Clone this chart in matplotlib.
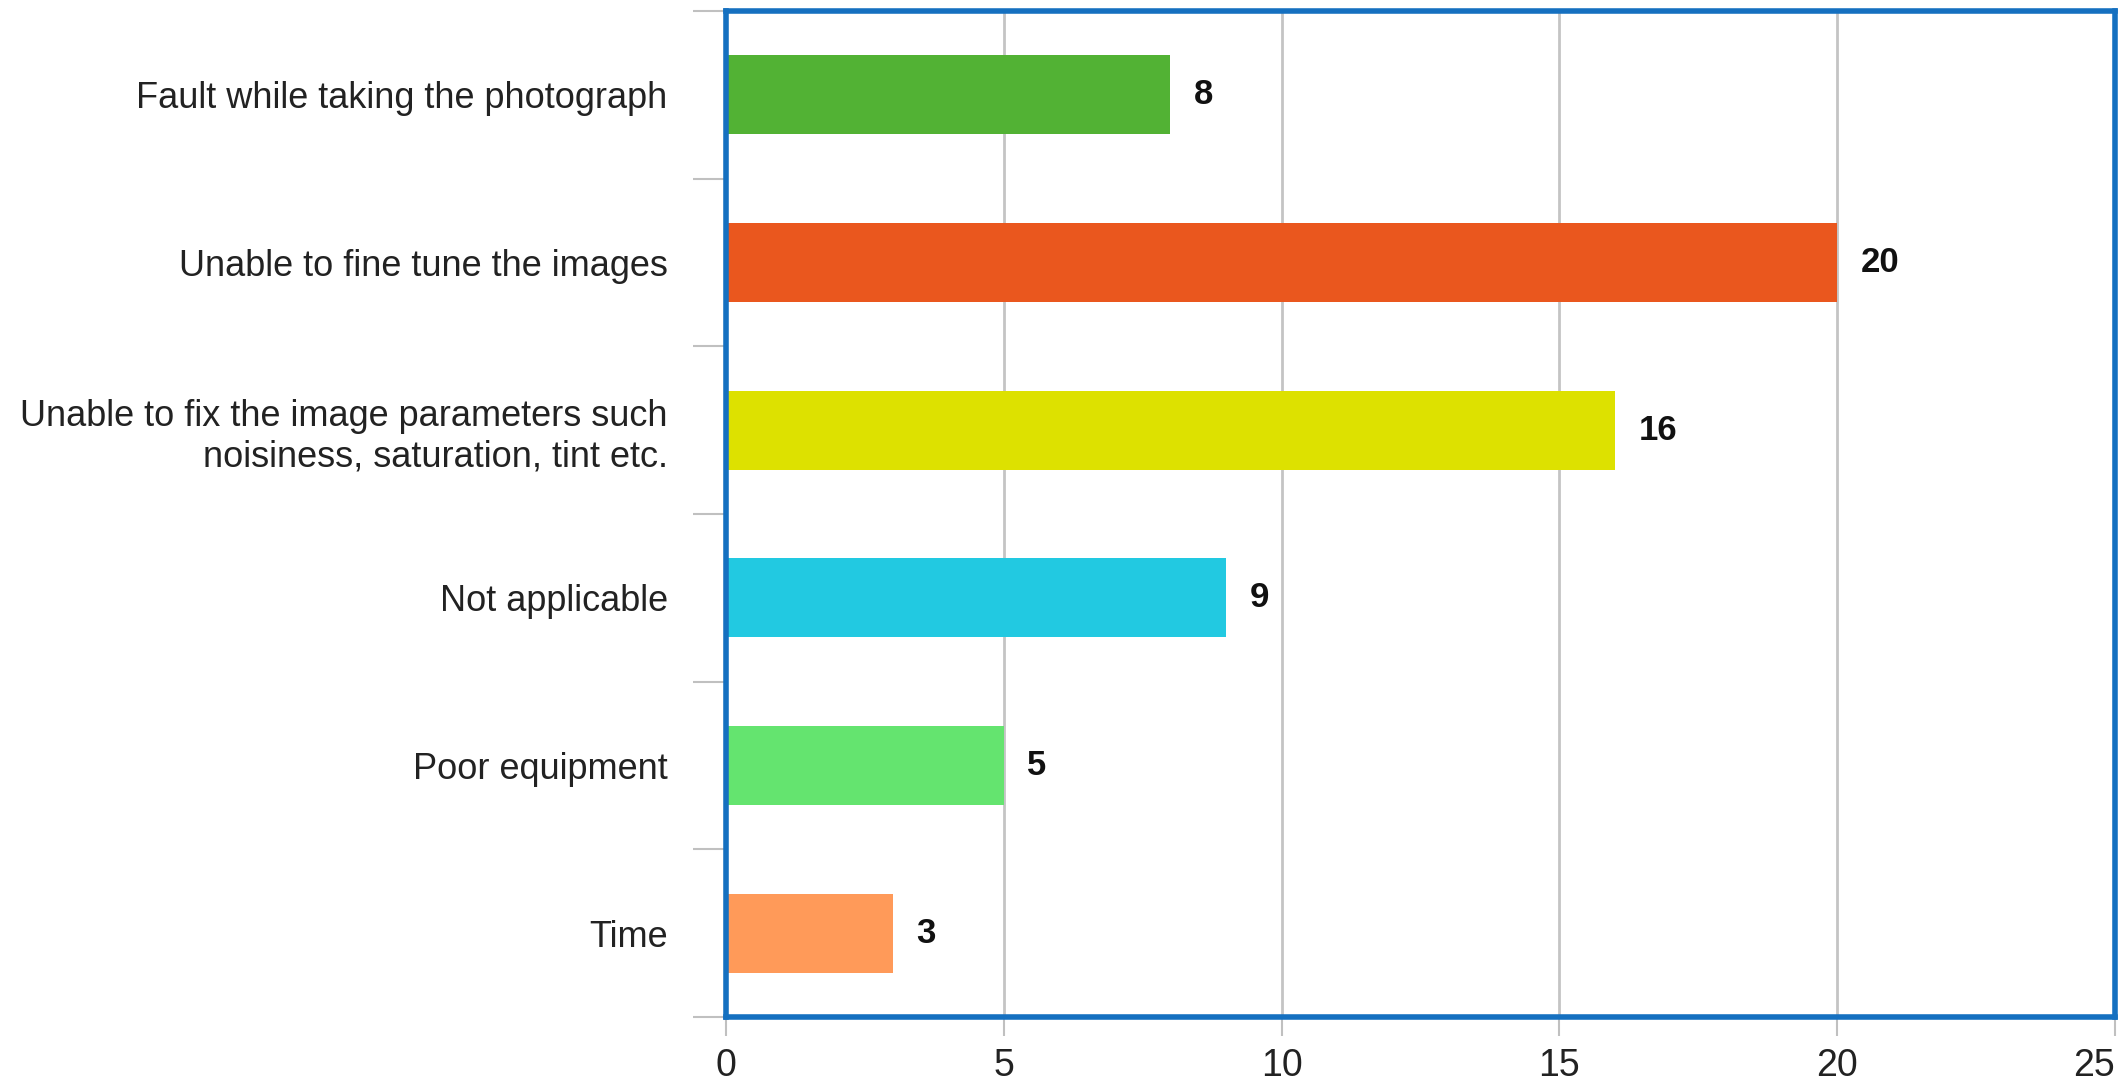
import matplotlib
import matplotlib.pyplot as plt

matplotlib.use('Agg')
plt.rcParams['font.family'] = ['Liberation Sans', 'DejaVu Sans']

# Data (top to bottom in the chart)
categories = [
    'Fault while taking the photograph',
    'Unable to fine tune the images',
    'Unable to fix the image parameters such\nnoisiness, saturation, tint etc.',
    'Not applicable',
    'Poor equipment',
    'Time',
]
counts = [8, 20, 16, 9, 5, 3]
colors = ['#52b234', '#ea571e', '#dde100', '#22c9e1', '#64e46f', '#ff9a59']
xticks = [0, 5, 10, 15, 20, 25]

fig = plt.figure(figsize=(21.27, 10.87), dpi=100)
ax = fig.add_axes([726 / 2127, 1 - 1017 / 1087, (2115 - 726) / 2127, (1017 - 11) / 1087])

ypos = list(range(len(categories)))
ax.barh(ypos, counts, height=0.47, color=colors, zorder=3)

for y, v in zip(ypos, counts):
    ax.text(v + 0.42, y, str(v), va='center', ha='left', fontsize=25,
            fontweight='bold', color='#111111', zorder=4)

ax.set_xlim(0, 25)
ax.set_ylim(len(categories) - 0.5, -0.5)

ax.set_xticks(xticks)
ax.set_xticklabels([str(t) for t in xticks], fontsize=27, color='#222222')
ax.tick_params(axis='x', length=14, width=1.5, color='#c0c0c0', pad=8)
# last label sits inside the figure edge, as in the original
ax.get_xticklabels()[-1].set_ha('right')

# category labels centred on the bars, ticks drawn between categories
ax.set_yticks(ypos)
ax.set_yticklabels(categories, fontsize=26, color='#222222', ha='right')
ax.tick_params(axis='y', which='major', length=0, pad=42)
ax.set_yticks([i - 0.5 for i in range(len(categories) + 1)], minor=True)
ax.tick_params(axis='y', which='minor', length=24, width=1.5, color='#c0c0c0')

ax.grid(axis='x', color='#c4c4c4', linewidth=2, zorder=1)
for s in ax.spines.values():
    s.set_color('#1570c0')
    s.set_linewidth(4)
    s.set_zorder(5)

fig.savefig('out.png', dpi=100)
